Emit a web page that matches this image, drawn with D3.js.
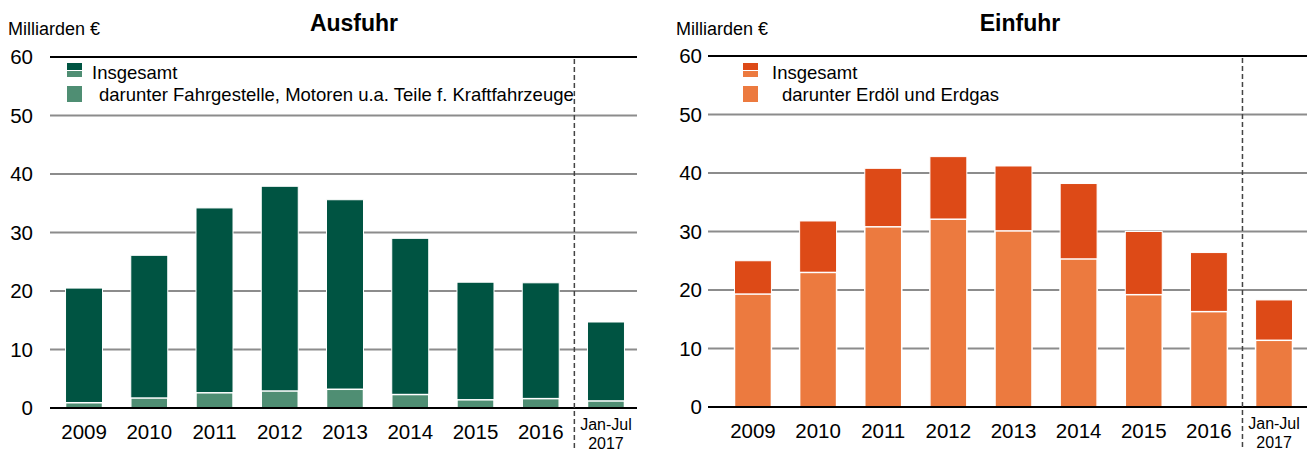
<!DOCTYPE html>
<html>
<head>
<meta charset="utf-8">
<script src="https://cdn.jsdelivr.net/npm/d3@7"></script>
<style>
  body { margin: 0; background: #fff; }
  svg { display: block; font-family: 'Liberation Sans', Arial, sans-serif; }
</style>
</head>
<body>
<svg id="chart" width="1307" height="450"></svg>
<script>
// categories (last one is the partial year)
var years = ['2009', '2010', '2011', '2012', '2013', '2014', '2015', '2016', '2017']
var yTicks = [0, 10, 20, 30, 40, 50, 60]

// Ausfuhr, Milliarden €
var ausfuhrTotal = [20.5, 26.1, 34.2, 37.9, 35.6, 29.0, 21.5, 21.4, 14.7]
var ausfuhrTeile = [0.9, 1.7, 2.6, 2.9, 3.2, 2.3, 1.4, 1.6, 1.2]

// Einfuhr, Milliarden €
var einfuhrTotal = [25.0, 31.8, 40.8, 42.8, 41.2, 38.2, 30.0, 26.4, 18.3]
var einfuhrEnergie = [19.3, 23.0, 30.8, 32.1, 30.1, 25.3, 19.2, 16.3, 11.4]

var svg = d3.select('#chart')

function drawPanel (o) {
  var g = svg.append('g')

  var x = d3.scaleBand()
    .domain(years)
    .range(o.barRange)
    .paddingInner(0.433)
    .paddingOuter(0.2165)

  var y = d3.scaleLinear()
    .domain([0, 60])
    .range([o.bottom, o.top])

  // unit label and title
  g.append('text')
    .attr('x', o.unitX).attr('y', 35)
    .attr('font-size', 18)
    .text('Milliarden €')
  g.append('text')
    .attr('x', o.titleX).attr('y', 31)
    .attr('text-anchor', 'middle')
    .attr('font-size', 23)
    .attr('font-weight', 'bold')
    .text(o.title)

  // gridlines
  g.append('g').selectAll('line')
    .data(yTicks)
    .join('line')
    .attr('x1', o.lineRange[0]).attr('x2', o.lineRange[1])
    .attr('y1', d => y(d)).attr('y2', d => y(d))
    .attr('stroke', d => (d === 0 || d === 60) ? '#000' : '#8c8c8c')
    .attr('stroke-width', 2)

  // y tick labels
  var yAxis = g.append('g')
    .attr('transform', 'translate(' + o.tickX + ',0)')
    .call(d3.axisLeft(y).tickValues(yTicks).tickSize(0).tickPadding(0))
  yAxis.select('.domain').remove()
  yAxis.selectAll('text')
    .attr('font-size', 20.5)
    .attr('font-family', null)
    .attr('fill', '#000')

  // total bars, then the "darunter" part drawn in front
  g.append('g').selectAll('rect')
    .data(years)
    .join('rect')
    .attr('x', d => x(d))
    .attr('width', x.bandwidth())
    .attr('y', (d, i) => y(o.total[i]))
    .attr('height', (d, i) => y(0) - y(o.total[i]))
    .attr('fill', o.dark)
    .attr('stroke', '#fff')
    .attr('stroke-width', 1)

  g.append('g').selectAll('rect')
    .data(years)
    .join('rect')
    .attr('x', d => x(d))
    .attr('width', x.bandwidth())
    .attr('y', (d, i) => y(o.part[i]))
    .attr('height', (d, i) => y(0) - y(o.part[i]))
    .attr('fill', o.light)
    .attr('stroke', '#fff')
    .attr('stroke-width', 1.5)

  // redraw baseline over the bars
  g.append('line')
    .attr('x1', o.lineRange[0]).attr('x2', o.lineRange[1])
    .attr('y1', y(0)).attr('y2', y(0))
    .attr('stroke', '#000').attr('stroke-width', 2)

  // x labels
  var xAxis = g.append('g')
    .attr('transform', 'translate(0,' + y(0) + ')')
    .call(d3.axisBottom(x).tickSize(0).tickPadding(0).tickFormat(d => d === '2017' ? '' : d))
  xAxis.select('.domain').remove()
  xAxis.selectAll('text')
    .attr('dy', 31)
    .attr('y', 0)
    .attr('font-size', 20.5)
    .attr('font-family', null)
    .attr('fill', '#000')

  var cx = x('2017') + x.bandwidth() / 2
  g.append('text')
    .attr('x', cx).attr('y', y(0) + 22)
    .attr('text-anchor', 'middle').attr('font-size', 16)
    .text('Jan-Jul')
  g.append('text')
    .attr('x', cx).attr('y', y(0) + 41)
    .attr('text-anchor', 'middle').attr('font-size', 16)
    .text('2017')

  // dashed separator before the partial year
  var sx = x('2017') - x.step() * x.paddingInner() / 2 + 1
  g.append('line')
    .attr('x1', sx).attr('x2', sx)
    .attr('y1', y(60) + 2).attr('y2', 450)
    .attr('stroke', '#444')
    .attr('stroke-width', 1.5)
    .attr('stroke-dasharray', '5,3')

  // legend
  var lx = o.legendX
  var lg = g.append('g')
  lg.append('rect').attr('x', lx).attr('y', 63).attr('width', 15).attr('height', 7).attr('fill', o.dark)
  lg.append('rect').attr('x', lx).attr('y', 71).attr('width', 15).attr('height', 6).attr('fill', o.light)
  lg.append('text').attr('x', lx + o.legendDx[0]).attr('y', 79).attr('font-size', 18.5).text('Insgesamt')
  lg.append('rect').attr('x', lx).attr('y', 86).attr('width', 15).attr('height', 16).attr('fill', o.light)
  lg.append('text').attr('x', lx + o.legendDx[1]).attr('y', 101).attr('font-size', 18.5).text(o.partLabel)
}

drawPanel({
  title: 'Ausfuhr',
  titleX: 354,
  unitX: 8,
  tickX: 33,
  barRange: [51.4, 638.6],
  lineRange: [50, 637],
  top: 57,
  bottom: 408,
  legendX: 67,
  legendDx: [25, 32],
  total: ausfuhrTotal,
  part: ausfuhrTeile,
  dark: '#005442',
  light: '#4f8e73',
  partLabel: 'darunter Fahrgestelle, Motoren u.a. Teile f. Kraftfahrzeuge'
})

drawPanel({
  title: 'Einfuhr',
  titleX: 1020,
  unitX: 676,
  tickX: 702,
  barRange: [720.4, 1306.6],
  lineRange: [708, 1307],
  top: 56,
  bottom: 407,
  legendX: 743,
  legendDx: [29, 39],
  total: einfuhrTotal,
  part: einfuhrEnergie,
  dark: '#dd4a17',
  light: '#ec7a3f',
  partLabel: 'darunter Erdöl und Erdgas'
})
</script>
</body>
</html>
